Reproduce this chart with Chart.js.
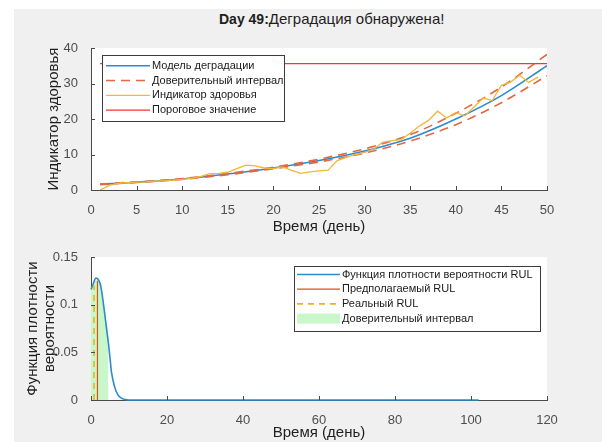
<!DOCTYPE html>
<html>
<head>
<meta charset="utf-8">
<script src="https://cdn.jsdelivr.net/npm/chart.js@4.4.1/dist/chart.umd.min.js"></script>
<style>
  html, body { margin: 0; padding: 0; background: #fff; }
  body { width: 602px; height: 442px; position: relative; overflow: hidden; font-family: "Liberation Sans", Arial, sans-serif; }
  #fig { position: absolute; left: 14px; top: 9px; width: 588px; height: 433px; background: #f0f0f0; }
  #title { position: absolute; left: 219px; top: 11px; color: #1e1e1e; white-space: nowrap; line-height: 16px; }
  #title b { font-size: 14px; }
  #title span { font-size: 15px; }
  .box { position: absolute; left: 0; width: 602px; }
</style>
</head>
<body>
<div id="fig"></div>
<div id="title"><b>Day 49:</b><span>Деградация обнаружена!</span></div>
<div class="box" style="top:0;height:240px"><canvas id="topChart"></canvas></div>
<div class="box" style="top:240px;height:202px"><canvas id="bottomChart"></canvas></div>
<script>
// --- верхний график: индикатор здоровья ---
const days = [1, 2, 3, 4, 5, 6, 7, 8, 9, 10, 11, 12, 13, 14, 15, 16, 17, 18, 19, 20, 21, 22, 23, 24, 25,
    26, 27, 28, 29, 30, 31, 32, 33, 34, 35, 36, 37, 38, 39, 40, 41, 42, 43, 44, 45, 46, 47, 48, 49];
const health = [0.0, 1.3, 1.9, 2.1, 2.2, 2.3, 2.5, 2.6, 2.8, 3.0, 3.3, 3.8, 4.6, 4.7, 5.0, 6.0, 7.0, 6.8, 6.2, 6.0,
    6.5, 5.5, 4.7, 5.1, 5.4, 5.6, 8.3, 9.2, 10.0, 10.6, 11.5, 13.5, 13.9, 14.2, 16.0, 18.0, 19.6, 22.2, 20.3, 21.8,
    20.9, 23.4, 25.9, 25.2, 29.5, 30.4, 32.3, 30.3, 31.8];

const modelDays = [1, 5, 10, 15, 20, 25, 30, 35, 40, 45, 50];
const modelValues = [1.6, 2.2, 3.1, 4.5, 6.2, 8.3, 11.0, 14.6, 20.0, 26.6, 35.0];
const upperBound = [1.7, 2.3, 3.2, 4.7, 6.4, 8.7, 11.6, 15.6, 21.6, 29.0, 38.2];
const lowerBound = [1.5, 2.1, 3.0, 4.3, 6.0, 7.9, 10.4, 13.8, 18.4, 24.6, 32.2];

const thresholdDays = [1, 50];
const thresholdValue = 35.6;

// --- нижний график: плотность вероятности RUL ---
const pdfTime = [0, 0.6, 1.3, 2.0, 2.6, 3.4, 4.0, 4.6, 5.0, 5.4, 6.2, 7.0, 8.0, 9.0, 10, 102];
const pdfValues = [0.116, 0.122, 0.128, 0.126, 0.119, 0.097, 0.078, 0.059, 0.044, 0.029, 0.014, 0.006, 0.002, 0.0005, 0, 0];
const confEnd = 4.6;
const predictedRUL = 1.7;
const predictedTop = 0.125;
const realRUL = 0.8;
const realTop = 0.12;
const pdfYLabels = ['0', '0.05', '0.1', '0.15'];

const xy = (xs, ys) => xs.map((x, i) => ({ x: x, y: ys[i] }));

const FONT = '"Liberation Sans", Arial, sans-serif';
const TICK_COLOR = '#4d4d4d';
const AXIS_COLOR = '#4a4a4a';
const LABEL_COLOR = '#1e1e1e';

// белый фон области графика
const plotBg = {
    id: 'plotBg',
    beforeDraw(chart) {
        const a = chart.chartArea;
        chart.ctx.save();
        chart.ctx.fillStyle = '#fff';
        chart.ctx.fillRect(a.left, a.top, a.right - a.left, a.bottom - a.top);
        chart.ctx.restore();
    }
};

// засечки внутрь, как в MATLAB
const innerTicks = {
    id: 'innerTicks',
    afterDraw(chart) {
        const ctx = chart.ctx;
        const xs = chart.scales.x, ys = chart.scales.y;
        ctx.save();
        ctx.strokeStyle = AXIS_COLOR;
        ctx.lineWidth = 1;
        ctx.beginPath();
        xs.ticks.forEach(t => {
            const px = Math.round(xs.getPixelForValue(t.value)) + 0.5;
            ctx.moveTo(px, xs.top);
            ctx.lineTo(px, xs.top - 4);
        });
        ys.ticks.forEach(t => {
            const py = Math.round(ys.getPixelForValue(t.value)) + 0.5;
            ctx.moveTo(ys.right, py);
            ctx.lineTo(ys.right + 4, py);
        });
        ctx.stroke();
        ctx.restore();
    }
};

// легенда в рамке
const boxLegend = {
    id: 'boxLegend',
    afterDatasetsDraw(chart, args, o) {
        const ctx = chart.ctx;
        ctx.save();
        ctx.fillStyle = '#fff';
        ctx.fillRect(o.x, o.y, o.w, o.h);
        ctx.strokeStyle = '#3c3c3c';
        ctx.lineWidth = 1;
        ctx.strokeRect(o.x + 0.5, o.y + 0.5, o.w, o.h);
        ctx.font = '11px ' + FONT;
        ctx.textBaseline = 'middle';
        ctx.fillStyle = '#1a1a1a';
        let row = 0;
        chart.data.datasets.forEach(ds => {
            if (ds.noLegend) return;
            const cy = o.y + o.first + row * o.step;
            if (ds.patch) {
                ctx.fillStyle = ds.backgroundColor;
                ctx.fillRect(o.sx0, cy - 5, o.sx1 - o.sx0, 10);
            } else {
                ctx.strokeStyle = ds.borderColor;
                ctx.lineWidth = ds.borderWidth;
                ctx.setLineDash(ds.borderDash || []);
                ctx.beginPath();
                ctx.moveTo(o.sx0, cy);
                ctx.lineTo(o.sx1, cy);
                ctx.stroke();
                ctx.setLineDash([]);
            }
            ctx.fillStyle = '#1a1a1a';
            ctx.fillText(ds.label, o.tx, cy);
            row++;
        });
        ctx.restore();
    }
};

function axisX(min, max, step, title, titlePad, areaBottomGap) {
    return {
        type: 'linear', min: min, max: max,
        grid: { display: false },
        border: { display: true, color: AXIS_COLOR, width: 1 },
        ticks: { stepSize: step, color: TICK_COLOR, font: { family: FONT, size: 13 }, padding: 5, maxRotation: 0 },
        title: { display: true, text: title, color: LABEL_COLOR, font: { family: FONT, size: 15 }, padding: { top: 0, bottom: titlePad } },
        afterFit: s => { s.height = areaBottomGap; }
    };
}

function axisY(min, max, step, title, titlePad, lineHeight, cb) {
    const ticks = { stepSize: step, color: TICK_COLOR, font: { family: FONT, size: 13 }, padding: 5 };
    if (cb) ticks.callback = cb;
    return {
        type: 'linear', min: min, max: max,
        grid: { display: false },
        border: { display: true, color: AXIS_COLOR, width: 1 },
        ticks: ticks,
        title: { display: true, text: title, color: LABEL_COLOR, font: { family: FONT, size: 15, lineHeight: lineHeight }, padding: { top: titlePad, bottom: 0 } },
        afterFit: s => { s.width = 91; }
    };
}

new Chart(document.getElementById('topChart'), {
    type: 'line',
    data: {
        datasets: [
            {
                label: 'Модель деградации',
                data: xy(modelDays, modelValues),
                borderColor: '#2d8ad0', borderWidth: 1.6,
                cubicInterpolationMode: 'monotone', order: 4
            },
            {
                label: 'Доверительный интервал',
                data: xy(modelDays, upperBound),
                borderColor: '#e4683f', borderWidth: 1.6, borderDash: [9, 6],
                cubicInterpolationMode: 'monotone', order: 3
            },
            {
                label: 'Доверительный интервал',
                data: xy(modelDays, lowerBound),
                borderColor: '#e4683f', borderWidth: 1.6, borderDash: [9, 6],
                cubicInterpolationMode: 'monotone', order: 3, noLegend: true
            },
            {
                label: 'Индикатор здоровья',
                data: xy(days, health),
                borderColor: '#f0b73a', borderWidth: 1.3,
                tension: 0, order: 2
            },
            {
                label: 'Пороговое значение',
                data: xy(thresholdDays, thresholdDays.map(() => thresholdValue)),
                borderColor: '#ff3030', borderWidth: 1.2,
                tension: 0, order: 1
            }
        ]
    },
    options: {
        responsive: true, maintainAspectRatio: false, animation: false,
        layout: { padding: { left: 0, right: 55, top: 48, bottom: 0 } },
        elements: { point: { radius: 0 } },
        scales: {
            x: axisX(0, 50, 5, 'Время (день)', 4, 50),
            y: axisY(0, 40, 10, 'Индикатор здоровья', 45, 1.2)
        },
        plugins: {
            legend: { display: false },
            tooltip: { enabled: false },
            boxLegend: { x: 102, y: 55, w: 182, h: 66, first: 10.7, step: 14.8, sx0: 106, sx1: 150, tx: 152 }
        }
    },
    plugins: [plotBg, innerTicks, boxLegend]
});

const confTime = pdfTime.filter(t => t <= confEnd);

new Chart(document.getElementById('bottomChart'), {
    type: 'line',
    data: {
        datasets: [
            {
                label: 'Функция плотности вероятности RUL',
                data: xy(pdfTime, pdfValues),
                borderColor: '#2d8ad0', borderWidth: 1.6,
                cubicInterpolationMode: 'monotone', order: 3, clip: 3
            },
            {
                label: 'Предполагаемый RUL',
                data: xy([predictedRUL, predictedRUL], [0, predictedTop]),
                borderColor: '#d95319', borderWidth: 1.2, order: 2
            },
            {
                label: 'Реальный RUL',
                data: xy([realRUL, realRUL], [0, realTop]),
                borderColor: '#edb120', borderWidth: 1.6, borderDash: [6, 5], order: 1
            },
            {
                label: 'Доверительный интервал',
                data: xy(confTime, pdfValues.slice(0, confTime.length)),
                borderWidth: 0, borderColor: 'rgba(0,0,0,0)',
                backgroundColor: '#c9f7c9', fill: 'origin',
                cubicInterpolationMode: 'monotone', order: 5, patch: true
            }
        ]
    },
    options: {
        responsive: true, maintainAspectRatio: false, animation: false,
        layout: { padding: { left: 0, right: 55, top: 17, bottom: 0 } },
        elements: { point: { radius: 0 } },
        scales: {
            x: axisX(0, 120, 20, 'Время (день)', 0, 42),
            y: axisY(0, 0.15, 0.05, ['Функция плотности', 'вероятности'], 24.5, 1.13,
                (v, i) => pdfYLabels[i])
        },
        plugins: {
            legend: { display: false },
            tooltip: { enabled: false },
            boxLegend: { x: 294, y: 26, w: 246, h: 65, first: 8.5, step: 14.7, sx0: 297, sx1: 340, tx: 342 }
        }
    },
    plugins: [plotBg, innerTicks, boxLegend]
});
</script>
</body>
</html>
